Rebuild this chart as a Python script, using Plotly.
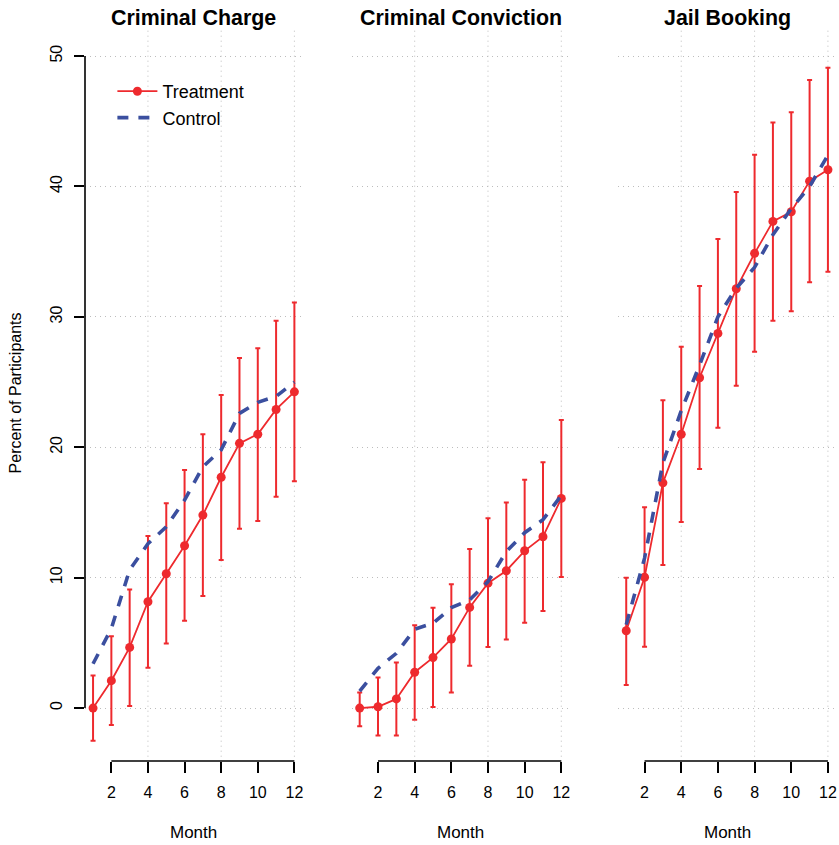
import plotly.graph_objects as go

# ---------------- data ----------------
months = [1, 2, 3, 4, 5, 6, 7, 8, 9, 10, 11, 12]
panel_titles = ["Criminal Charge", "Criminal Conviction", "Jail Booking"]

charge_trt = [0.0, 2.1, 4.65, 8.15, 10.3, 12.45, 14.8, 17.7, 20.3, 21.0, 22.9, 24.25]
charge_lo = [-2.5, -1.3, 0.15, 3.1, 4.95, 6.7, 8.6, 11.35, 13.75, 14.35, 16.2, 17.4]
charge_hi = [2.5, 5.5, 9.1, 13.2, 15.7, 18.25, 21.0, 24.0, 26.85, 27.6, 29.7, 31.1]
charge_ctl = [3.4, 6.1, 10.6, 12.6, 13.9, 15.95, 18.5, 19.8, 22.6, 23.45, 23.9, 25.0]

conv_trt = [0.0, 0.1, 0.7, 2.75, 3.87, 5.3, 7.72, 9.58, 10.53, 12.06, 13.14, 16.08]
conv_lo = [-1.4, -2.1, -2.1, -0.9, 0.08, 1.2, 3.25, 4.68, 5.26, 6.55, 7.44, 10.05]
conv_hi = [1.2, 2.35, 3.5, 6.36, 7.7, 9.5, 12.2, 14.55, 15.77, 17.5, 18.86, 22.1]
conv_ctl = [1.3, 3.05, 4.2, 6.05, 6.5, 7.7, 8.3, 9.7, 12.0, 13.45, 14.45, 16.3]

jail_trt = [5.93, 10.03, 17.27, 21.0, 25.33, 28.73, 32.16, 34.87, 37.32, 38.06, 40.41, 41.28]
jail_lo = [1.76, 4.7, 10.97, 14.26, 18.33, 21.5, 24.72, 27.33, 29.7, 30.44, 32.65, 33.46]
jail_hi = [10.0, 15.4, 23.6, 27.7, 32.36, 35.97, 39.57, 42.43, 44.91, 45.7, 48.16, 49.1]
jail_ctl = [6.4, 11.5, 18.8, 22.8, 26.3, 30.0, 32.2, 33.8, 36.3, 38.3, 40.0, 42.4]

x_ticks = [2, 4, 6, 8, 10, 12]
y_ticks = [0, 10, 20, 30, 40, 50]
x_grid = [4, 8, 12]

# ---------------- style ----------------
RED = "#EE2A2E"
BLUE = "#3B4F9F"
GRID = "#BDBDBD"
FONT = "Liberation Sans, Arial, Helvetica, sans-serif"
W, H = 839, 845
ML, MR, MT, MB = 84.6, 3.2, 30, 84
PW = W - ML - MR
PH = H - MT - MB
Y_BOTTOM_PX = 756.7  # bottom of plot region (pixels from top)
YDOM0 = ((H - MB) - Y_BOTTOM_PX) / PH

panel_px = [(84.6, 302.1), (351.3, 569.1), (617.9, 835.8)]
domains = [[(a - ML) / PW, (b - ML) / PW] for a, b in panel_px]

series = [
    (charge_trt, charge_lo, charge_hi, charge_ctl),
    (conv_trt, conv_lo, conv_hi, conv_ctl),
    (jail_trt, jail_lo, jail_hi, jail_ctl),
]

fig = go.Figure()
for i, (trt, lo, hi, ctl) in enumerate(series):
    n = "" if i == 0 else str(i + 1)
    fig.add_trace(go.Scatter(
        x=months, y=trt, mode="lines+markers", name="Treatment",
        legendgroup="trt", showlegend=(i == 0),
        xaxis="x" + n, yaxis="y" + n,
        line=dict(color=RED, width=1.8),
        marker=dict(color=RED, size=9, symbol="circle"),
        error_y=dict(type="data", symmetric=False,
                     array=[h - v for h, v in zip(hi, trt)],
                     arrayminus=[v - l for v, l in zip(trt, lo)],
                     color=RED, thickness=2, width=2.5),
    ))
    fig.add_trace(go.Scatter(
        x=months, y=ctl, mode="lines", name="Control",
        legendgroup="ctl", showlegend=(i == 0),
        xaxis="x" + n, yaxis="y" + n,
        line=dict(color=BLUE, width=3.6, dash="11px,10px"),
    ))

layout = dict(
    width=W, height=H,
    margin=dict(l=ML, r=MR, t=MT, b=MB, pad=0),
    paper_bgcolor="white", plot_bgcolor="white",
    font=dict(family=FONT, color="black", size=16),
    showlegend=True,
    hovermode=False,
    legend=dict(
        x=(112 - ML) / PW, y=((H - MB) - 73) / PH, xanchor="left", yanchor="top",
        bgcolor="rgba(0,0,0,0)", borderwidth=0,
        font=dict(size=18, family=FONT), itemwidth=40,
        tracegroupgap=0,
    ),
)

shapes = []
annotations = []
for i in range(3):
    n = "" if i == 0 else str(i + 1)
    layout["xaxis" + n] = dict(
        domain=domains[i], range=[0.56, 12.44], anchor="free", position=0,
        tickvals=x_ticks, ticktext=[str(t) for t in x_ticks],
        ticks="outside", ticklen=10.5, tickwidth=1.6, tickcolor="black",
        showline=False, showgrid=False, zeroline=False,
        tickfont=dict(size=16, family=FONT), ticklabelstandoff=6,
    )
    layout["yaxis" + n] = dict(
        domain=[YDOM0, 1], range=[-3.73, 52.0], anchor="x" + n,
        tickvals=y_ticks, ticktext=[str(t) for t in y_ticks],
        showgrid=True, gridcolor=GRID, griddash="1px,4px", gridwidth=1,
        zeroline=False, showline=False,
        ticks="outside" if i == 0 else "", ticklen=10, tickwidth=1.6, tickcolor="black",
        showticklabels=(i == 0), tickangle=-90,
        tickfont=dict(size=16, family=FONT), ticklabelstandoff=6,
    )
    # vertical dotted grid lines
    for gx in x_grid:
        shapes.append(dict(type="line", xref="x" + n, yref="y" + n + " domain",
                           x0=gx, x1=gx, y0=0, y1=1, layer="below",
                           line=dict(color=GRID, width=1, dash="1px,4px")))
    # x axis line spanning the tick range
    shapes.append(dict(type="line", xref="x" + n, yref="paper",
                       x0=min(x_ticks), x1=max(x_ticks), y0=0, y1=0,
                       line=dict(color="black", width=1.6)))
    # panel title
    annotations.append(dict(text="<b>" + panel_titles[i] + "</b>", xref="paper", yref="paper",
                            x=sum(domains[i]) / 2, y=((H - MB) - 18) / PH,
                            xanchor="center", yanchor="middle", showarrow=False,
                            font=dict(size=21.4, family=FONT)))
    annotations.append(dict(text="Month", xref="paper", yref="paper",
                            x=sum(domains[i]) / 2, y=((H - MB) - 833) / PH,
                            xanchor="center", yanchor="middle", showarrow=False,
                            font=dict(size=17, family=FONT)))

# y axis line on the first panel
shapes.append(dict(type="line", xref="x domain", yref="y",
                   x0=0, x1=0, y0=min(y_ticks), y1=max(y_ticks),
                   line=dict(color="black", width=1.6)))
annotations.append(dict(text="Percent of Participants", xref="paper", yref="paper",
                        x=(15 - ML) / PW, y=((H - MB) - 393) / PH, textangle=-90,
                        xanchor="center", yanchor="middle", showarrow=False,
                        font=dict(size=16, family=FONT)))

layout["shapes"] = shapes
layout["annotations"] = annotations
fig.update_layout(**layout)
fig.write_html("out.html",
               config={"displayModeBar": False},
               post_script="document.body.style.margin='0px';document.body.style.padding='0px';")
